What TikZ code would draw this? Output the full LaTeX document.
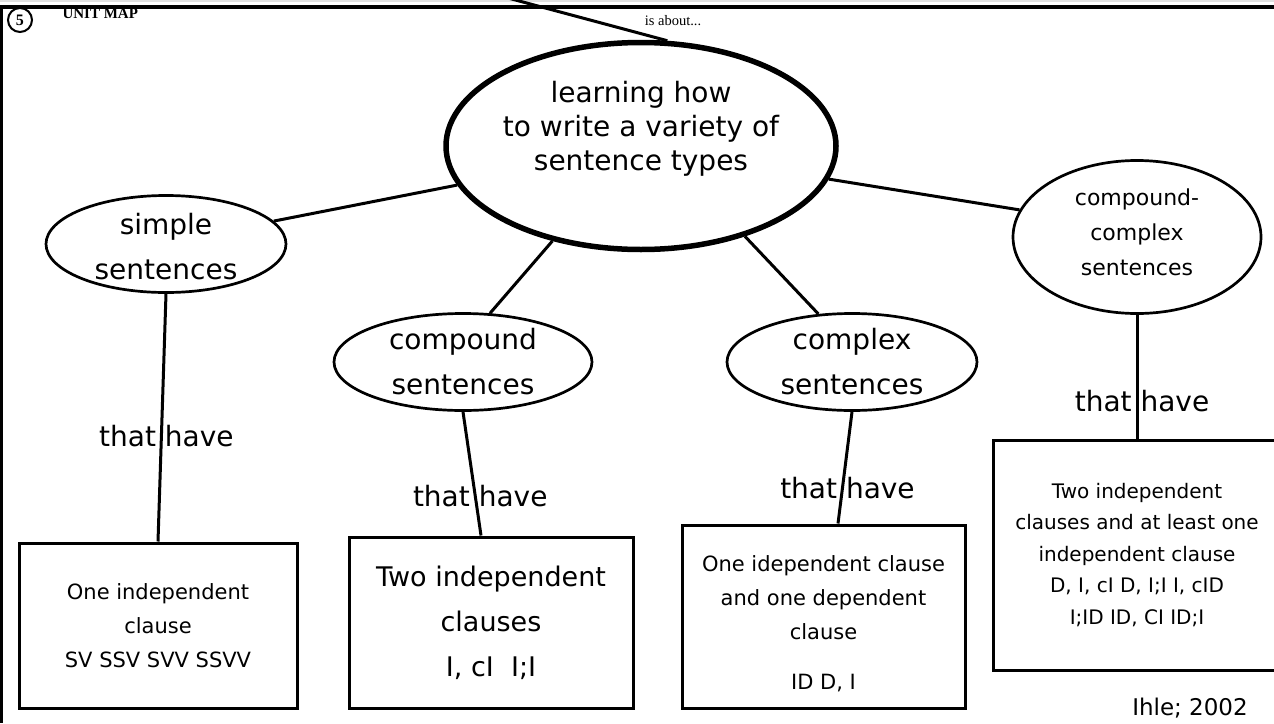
\documentclass[tikz,border=0pt]{standalone}
\usepackage{fontspec}
\setmainfont{DejaVu Sans}
\newfontfamily\headserif{Liberation Serif}
\usetikzlibrary{shapes.geometric}

\begin{document}
\begin{tikzpicture}[x=1pt,y=-1pt,
		bubble/.style={draw,ellipse,line width=2.7pt,inner sep=0pt},
		bubbletext/.style={align=center,font=\fontsize{28}{45}\selectfont},
		clausebox/.style={draw,rectangle,line width=3pt,inner sep=0pt,align=center,font=\fontsize{21}{34}\selectfont},
		link/.style={line width=3pt},
		havelabel/.style={font=\fontsize{28}{34}\selectfont,xshift=5pt}]
		
		\useasboundingbox (0,0) rectangle (1274,723);
		\clip (0,0) rectangle (1274,723);
		
		% page frame
		\fill[black!12] (0,0) rectangle (1274,2);
		\draw[line width=3.5pt] (0,7) -- (1274,7);
		\draw[line width=3.5pt] (1.5,7) -- (1.5,723);
		
		\node[draw,circle,line width=2pt,minimum size=24pt,inner sep=0pt,font=\headserif\bfseries\fontsize{16}{16}\selectfont] (unitno) at (20,20) {5};
		\node[anchor=base west,font=\headserif\bfseries\fontsize{15}{15}\selectfont] (unitmap) at (59,18) {UNIT MAP};
		\node[anchor=base,font=\headserif\fontsize{14.5}{15}\selectfont] (isabout) at (673,25) {is about...};
		
		% main topic and sentence types
		\node[bubble,line width=5.5pt,minimum width=390pt,minimum height=207pt,
			label={[bubbletext,font=\fontsize{28}{34}\selectfont,yshift=17pt]center:learning how\\to write a variety of\\sentence types}] (topic) at (641,146) {};
		\node[bubble,minimum width=240pt,minimum height=97pt,
			label={[bubbletext,yshift=-3pt]center:simple\\sentences}] (simple) at (166,244) {};
		\node[bubble,minimum width=258pt,minimum height=97pt,
			label={[bubbletext]center:compound\\sentences}] (compound) at (463,362) {};
		\node[bubble,minimum width=250pt,minimum height=97pt,
			label={[bubbletext]center:complex\\sentences}] (complex) at (852,362) {};
		\node[bubble,minimum width=248pt,minimum height=153pt,
			label={[bubbletext,font=\fontsize{22}{35}\selectfont,yshift=5pt]center:compound-\\complex\\sentences}] (cc) at (1137,237) {};
		
		% clause boxes
		\node[clausebox,minimum width=278pt,minimum height=165pt] (sbox) at (158,625.5) {One independent\\clause\\SV SSV SVV SSVV};
		\node[clausebox,minimum width=284pt,minimum height=171pt,font=\fontsize{27}{45}\selectfont] (cbox) at (491,622.5) {Two independent\\clauses\\I, cI\ \ I;I};
		\node[clausebox,minimum width=283pt,minimum height=183pt] (xbox) at (823.5,616.5) {\rule{0pt}{31pt}One idependent clause\\and one dependent\\clause\\[16pt]ID D, I};
		\node[clausebox,minimum width=288pt,minimum height=230pt,font=\fontsize{20}{31.5}\selectfont] (ccbox) at (1137,555) {Two independent\\clauses and at least one\\independent clause\\D, I, cI D, I;I I, cID\\I;ID ID, CI ID;I};
		
		\node[font=\fontsize{23}{23}\selectfont] (credit) at (1190,708) {Ihle; 2002};
		
		% connectors
		\coordinate (offpage) at (508,-2);
		\draw[link] (offpage) -- (topic.76);
		\draw[link] (topic.192) -- (simple.12);
		\draw[link] (topic.227) -- (compound.61);
		\draw[link] (topic.319) -- (complex.125);
		\draw[link] (topic.350) -- (cc.167);
		
		\draw[link] (simple.south) -- (sbox.north) node[havelabel,pos=0.574] (have1) {that have};
		\draw[link] (compound.south) -- ([xshift=-10pt]cbox.north) node[havelabel,pos=0.68] (have2) {that have};
		\draw[link] (complex.south) -- ([xshift=14.5pt]xbox.north) node[havelabel,pos=0.68] (have3) {that have};
		\draw[link] (cc.south) -- (ccbox.north) node[havelabel,pos=0.70] (have4) {that have};
	\end{tikzpicture}
\end{document}
